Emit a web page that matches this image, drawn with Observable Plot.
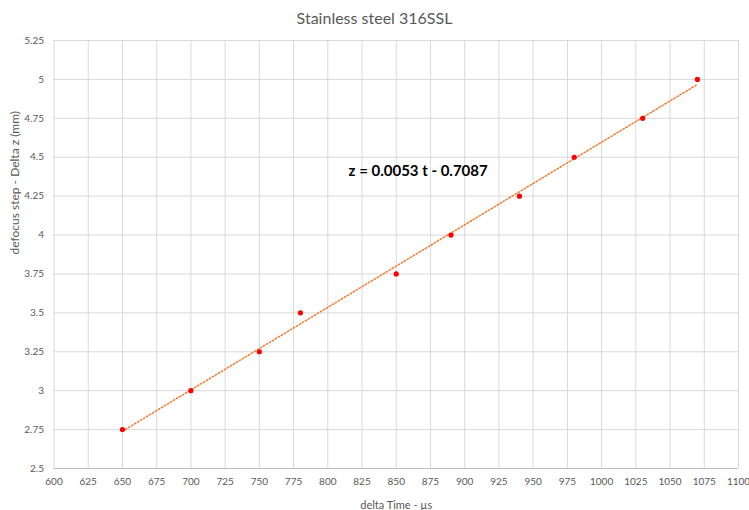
<!DOCTYPE html>
<html><head><meta charset="utf-8">
<script src="https://cdn.jsdelivr.net/npm/d3@7"></script>
<script src="https://cdn.jsdelivr.net/npm/@observablehq/plot@0.6"></script>
<style>
body{margin:0;background:#fff;font-family:Lato,"Open Sans",sans-serif;}
#title{height:30px;line-height:36px;text-align:center;font-size:16px;color:#595959;}
</style></head><body>
<div id="title"></div>
<div id="chart"></div>
<script>
const title = "Stainless steel 316SSL";
const xLabel = "delta Time - µs";
const yLabel = "defocus step - Delta z (mm)";
const deltaTime = [650, 700, 750, 780, 850, 890, 940, 980, 1030, 1070];
const deltaZ = [2.75, 3, 3.25, 3.5, 3.75, 4, 4.25, 4.5, 4.75, 5];
const xTicks = d3.range(600, 1101, 25);
const yTicks = [2.5, 2.75, 3, 3.25, 3.5, 3.75, 4, 4.25, 4.5, 4.75, 5, 5.25];
const equation = ["z = 0.0053 t - 0.7087"];
const equationPos = [{t: 866, z: 4.41}];

document.getElementById("title").textContent = title;
const data = deltaTime.map((t, i) => ({t, z: deltaZ[i]}));
const ann = equationPos.map((p, i) => ({...p, label: equation[i]}));

const chart = Plot.plot({
  width: 749, height: 480,
  marginLeft: 53.5, marginRight: 11, marginTop: 10, marginBottom: 42,
  style: {fontFamily: "Lato, 'Open Sans', sans-serif", fontSize: "10px", color: "#595959", background: "#fff"},
  x: {domain: [600, 1100], ticks: xTicks, tickFormat: d => String(d)},
  y: {domain: [2.5, 5.25], ticks: yTicks, tickFormat: d => String(d)},
  marks: [
    Plot.gridX(xTicks, {stroke: "#d9d9d9", strokeOpacity: 1, strokeWidth: 1}),
    Plot.gridY(yTicks, {stroke: "#d9d9d9", strokeOpacity: 1, strokeWidth: 1}),
    Plot.ruleY([2.5], {stroke: "#bfbfbf"}),
    Plot.axisX(xTicks, {tickSize: 0, tickPadding: 9, tickFormat: d => String(d), label: null, fill: "#595959"}),
    Plot.text([xLabel], {frameAnchor: "bottom", dy: 40, fontSize: 11, fill: "#595959"}),
    Plot.axisY(yTicks, {tickSize: 0, tickPadding: 10, tickFormat: d => String(d), label: null, fill: "#595959"}),
    Plot.text([yLabel], {frameAnchor: "left", rotate: -90, dx: -39, fontSize: 12, fill: "#595959"}),
    Plot.linearRegressionY(data, {x: "t", y: "z", stroke: "#ed7d31", strokeWidth: 1.5, strokeDasharray: "1.5,2", ci: 0}),
    Plot.dot(data, {x: "t", y: "z", r: 2.6, fill: "#ff0000", stroke: "none"}),
    Plot.text(ann, {x: "t", y: "z", text: "label", fontSize: 15, fontWeight: "bold", fill: "#000"})
  ]
});
document.getElementById("chart").appendChild(chart);
</script>
</body></html>
